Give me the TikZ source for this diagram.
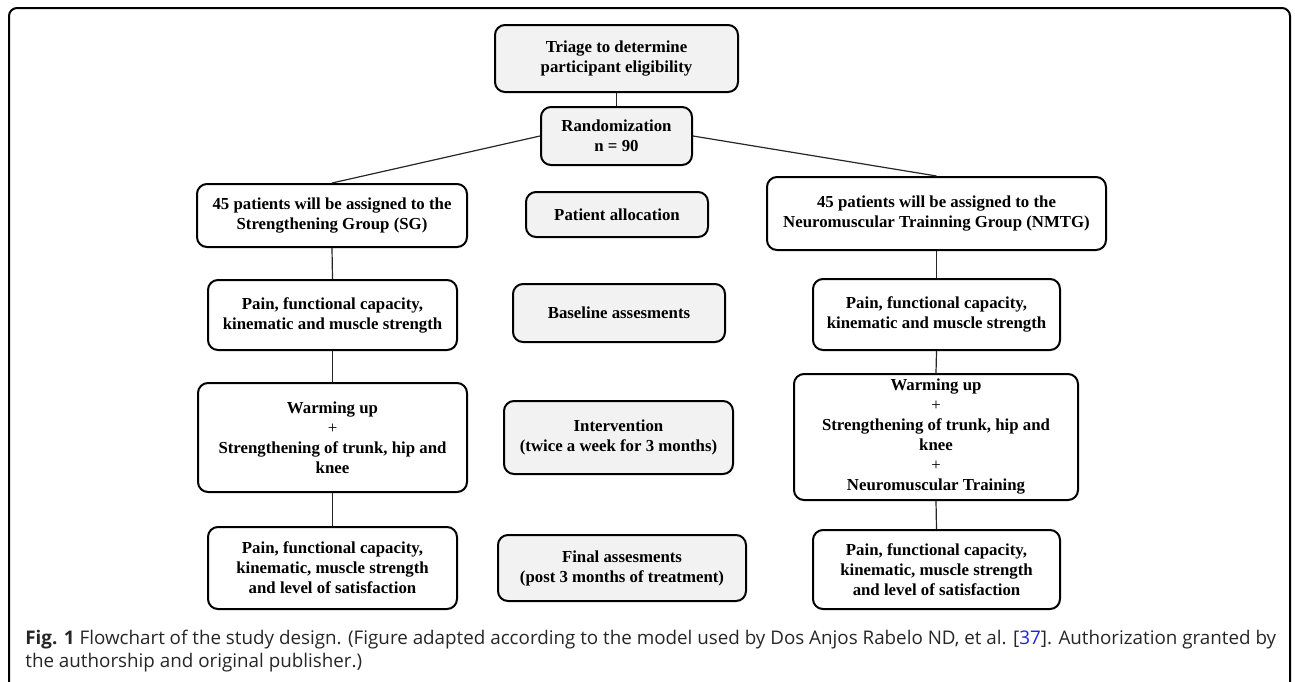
\documentclass[tikz,border=0pt]{standalone}
\usepackage{fontspec}
\setmainfont{Liberation Serif}
\newfontfamily\capfont{Open Sans}
\definecolor{cfill}{HTML}{F2F2F2}
\definecolor{linkblue}{HTML}{1F1FE6}
\begin{document}
\begin{tikzpicture}[x=0.5pt,y=-0.5pt,
  box/.style={draw=black, line width=1pt, rounded corners=5pt, align=center, inner sep=0pt,
     font=\fontsize{8.4pt}{10pt}\selectfont\bfseries, fill=white},
  cbox/.style={box, fill=cfill},
  conn/.style={draw=black!85, line width=0.6pt}]
\useasboundingbox (0,0) rectangle (1295,681);
\begin{scope}
\clip (0,0) rectangle (1295,681);
\draw[line width=1pt, rounded corners=4pt] (9,700) -- (9,8) -- (1290,8) -- (1290,700);
\end{scope}
% centre column
\node[cbox, minimum width=121.5pt, minimum height=33.5pt] (triage) at (616.5,58.5) {Triage to determine\\participant eligibility};
\node[cbox, minimum width=75.5pt, minimum height=29pt] (rand) at (616.5,136) {Randomization\\n = 90};
\node[cbox, minimum width=91pt, minimum height=22.5pt] (alloc) at (617,214.5) {Patient allocation};
\node[cbox, minimum width=106pt, minimum height=29pt] (base) at (619,313) {Baseline assesments};
\node[cbox, minimum width=114.5pt, minimum height=36.5pt] (inter) at (618.5,437.5) {Intervention\\(twice a week for 3 months)};
\node[cbox, minimum width=124pt, minimum height=33pt] (final) at (622,568) {Final assesments\\(post 3 months of treatment)};
% left column
\node[box, minimum width=135pt, minimum height=31.5pt] (sg) at (332,215.5) {45 patients will be assigned to the\\Strengthening Group (SG)};
\node[box, minimum width=124.5pt, minimum height=35pt] (lp1) at (332.5,315) {Pain, functional capacity,\\kinematic and muscle strength};
\node[box, minimum width=134.5pt, minimum height=54.5pt] (lw) at (332.5,437.5) {Warming up\\{\mdseries +}\\Strengthening of trunk, hip and\\knee};
\node[box, minimum width=124.5pt, minimum height=41pt] (lp2) at (332.5,568) {Pain, functional capacity,\\kinematic, muscle strength\\and level of satisfaction};
% right column
\node[box, minimum width=169.5pt, minimum height=36.5pt] (nm) at (936.5,213.5) {45 patients will be assigned to the\\Neuromuscular Trainning Group (NMTG)};
\node[box, minimum width=123.5pt, minimum height=35.5pt] (rp1) at (936.5,314.5) {Pain, functional capacity,\\kinematic and muscle strength};
\node[box, minimum width=142pt, minimum height=63pt] (rw) at (936,437) {Warming up\\{\mdseries +}\\Strengthening of trunk, hip and\\knee\\{\mdseries +}\\Neuromuscular Training};
\node[box, minimum width=123.5pt, minimum height=39.5pt] (rp2) at (936.5,569.5) {Pain, functional capacity,\\kinematic, muscle strength\\and level of satisfaction};
% connectors
\draw[conn] (triage.south) -- (rand.north);
\draw[conn] (rand.west) -- (sg.north);
\draw[conn] (rand.east) -- (nm.north);
\draw[conn] (sg.south) -- (lp1.north);
\draw[conn] (lp1.south) -- (lw.north);
\draw[conn] (lw.south) -- (lp2.north);
\draw[conn] (nm.south) -- (rp1.north);
\draw[conn] (rp1.south) -- (rw.north);
\draw[conn] (rw.south) -- (rp2.north);
% caption
\node[anchor=north west, align=left, inner sep=0pt, font=\capfont\fontsize{9.4pt}{11.5pt}\selectfont, text=black!85] (cap) at (25,630)
 {\textbf{Fig. 1} Flowchart of the study design. (Figure adapted according to the model used by Dos Anjos Rabelo ND, et al. [{\color{linkblue}37}]. Authorization granted by\\the authorship and original publisher.)};
\end{tikzpicture}
\end{document}
